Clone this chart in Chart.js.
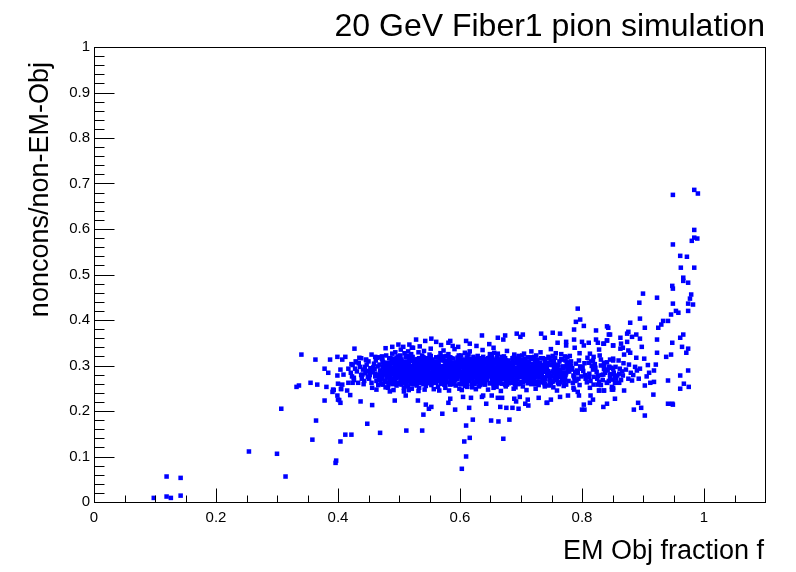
<!DOCTYPE html>
<html>
<head>
<meta charset="utf-8">
<title>20 GeV Fiber1 pion simulation</title>
<script src="https://cdn.jsdelivr.net/npm/chart.js@4.4.1/dist/chart.umd.min.js"></script>
<style>
  html, body { margin: 0; padding: 0; background: #ffffff; }
  #box { width: 796px; height: 572px; }
</style>
</head>
<body>
<div id="box"><canvas id="chart-fiber1" width="796" height="572"></canvas></div>
<script>
// Texts and axis ticks
const titleText = "20 GeV Fiber1 pion simulation";
const xTitle = "EM Obj fraction f";
const yTitle = "noncons/non-EM-Obj";
const xRange = [0, 1.1];
const yRange = [0, 1];
const xTickValues = [0, 0.2, 0.4, 0.6, 0.8, 1];
const xTickLabels = ["0", "0.2", "0.4", "0.6", "0.8", "1"];
const yTickValues = [0, 0.1, 0.2, 0.3, 0.4, 0.5, 0.6, 0.7, 0.8, 0.9, 1];
const yTickLabels = ["0", "0.1", "0.2", "0.3", "0.4", "0.5", "0.6", "0.7", "0.8", "0.9", "1"];

// [EM fraction, noncons/non-EM] pairs
const lowTail = [
  [0.098,0.009],[0.119,0.012],[0.126,0.009],[0.142,0.014],[0.119,0.056],[0.142,0.053],
  [0.254,0.111],[0.300,0.106],[0.314,0.056],[0.307,0.205],[0.340,0.324],[0.332,0.253],
  [0.336,0.256],[0.355,0.262],[0.363,0.313],[0.366,0.258],[0.364,0.179],[0.358,0.137],
  [0.378,0.293],[0.384,0.284],[0.381,0.253],[0.378,0.223],[0.387,0.313],[0.391,0.242],
  [0.392,0.247],[0.399,0.319],[0.399,0.278],[0.400,0.260],[0.404,0.291],[0.399,0.234],
  [0.400,0.225],[0.404,0.218],[0.405,0.249],[0.407,0.313],[0.409,0.280],[0.407,0.258],
  [0.412,0.319],[0.417,0.293],[0.417,0.262],[0.415,0.245],[0.412,0.148],[0.404,0.133],
  [0.397,0.091],[0.396,0.086],[0.422,0.148],[0.437,0.221],[0.456,0.213],[0.448,0.172],
  [0.469,0.152],[0.427,0.337],[0.424,0.262],[0.426,0.273],[0.422,0.303],[0.430,0.307],
  [0.438,0.316],[0.420,0.235],[0.402,0.224],[0.393,0.246],[0.405,0.248]
];

const lowerFringe = [
  [0.540,0.192],[0.571,0.194],[0.592,0.203],[0.615,0.207],[0.621,0.181],[0.610,0.168],
  [0.616,0.141],[0.607,0.133],[0.610,0.100],[0.603,0.073],[0.493,0.223],[0.511,0.234],
  [0.531,0.223],[0.544,0.214],[0.553,0.209],[0.549,0.205],[0.581,0.218],[0.584,0.227],
  [0.512,0.157],[0.538,0.157],[0.643,0.216],[0.651,0.179],[0.663,0.177],[0.681,0.181],
  [0.671,0.139],[0.666,0.209],[0.676,0.207],[0.686,0.207],[0.696,0.205],[0.707,0.216],
  [0.712,0.212],[0.743,0.218],[0.605,0.231],[0.618,0.229],[0.638,0.234],[0.652,0.234],
  [0.636,0.231],[0.662,0.229],[0.669,0.229],[0.689,0.227],[0.692,0.221],[0.698,0.231],
  [0.711,0.225],[0.729,0.229],[0.742,0.218],[0.749,0.225],[0.764,0.231],[0.777,0.234],
  [0.787,0.247],[0.793,0.242],[0.795,0.234],[0.800,0.203],[0.803,0.214],[0.804,0.203],
  [0.813,0.218],[0.818,0.225],[0.814,0.234],[0.813,0.251],[0.826,0.258],[0.819,0.275],
  [0.828,0.245],[0.836,0.245],[0.835,0.209],[0.841,0.216],[0.854,0.227],[0.841,0.262],
  [0.849,0.247],[0.851,0.251],[0.854,0.275],[0.885,0.203],[0.892,0.218],[0.897,0.207],
  [0.903,0.190]
];

const upperFringe = [
  [0.499,0.346],[0.517,0.346],[0.528,0.357],[0.543,0.354],[0.553,0.359],[0.561,0.352],
  [0.584,0.354],[0.581,0.350],[0.610,0.354],[0.616,0.348],[0.455,0.324],[0.435,0.317],
  [0.446,0.313],[0.461,0.319],[0.464,0.317],[0.636,0.366],[0.674,0.366],[0.662,0.361],
  [0.671,0.357],[0.693,0.370],[0.703,0.368],[0.699,0.363],[0.733,0.370],[0.752,0.372],
  [0.764,0.370],[0.739,0.361],[0.774,0.352],[0.774,0.344],[0.760,0.350],[0.788,0.339],
  [0.800,0.352],[0.811,0.350],[0.803,0.344],[0.823,0.357],[0.826,0.350],[0.836,0.348],
  [0.841,0.355],[0.844,0.368],[0.851,0.344],[0.793,0.425],[0.790,0.396],[0.797,0.401],
  [0.803,0.387],[0.787,0.379],[0.823,0.377],[0.841,0.386],[0.787,0.357],[0.478,0.338],
  [0.489,0.341],[0.627,0.343],[0.648,0.347],[0.655,0.339],[0.588,0.343],[0.597,0.341],
  [0.569,0.345],[0.534,0.342],[0.521,0.339],[0.507,0.341]
];

const rightTail = [
  [0.846,0.368],[0.841,0.355],[0.835,0.348],[0.851,0.344],[0.828,0.335],[0.831,0.313],
  [0.846,0.313],[0.851,0.311],[0.860,0.311],[0.831,0.300],[0.836,0.300],[0.845,0.297],
  [0.841,0.291],[0.848,0.295],[0.835,0.280],[0.846,0.280],[0.841,0.262],[0.849,0.269],
  [0.861,0.262],[0.849,0.253],[0.851,0.247],[0.869,0.245],[0.836,0.245],[0.828,0.245],
  [0.813,0.326],[0.819,0.319],[0.818,0.311],[0.811,0.306],[0.836,0.306],[0.844,0.297],
  [0.851,0.293],[0.855,0.297],[0.984,0.686],[0.990,0.678],[0.949,0.675],[0.984,0.598],
  [0.980,0.574],[0.984,0.581],[0.989,0.579],[0.949,0.566],[0.961,0.541],[0.972,0.539],
  [0.962,0.515],[0.984,0.515],[0.966,0.493],[0.966,0.486],[0.974,0.482],[0.948,0.475],
  [0.949,0.469],[0.979,0.456],[0.977,0.447],[0.974,0.436],[0.982,0.434],[0.949,0.436],
  [0.923,0.449],[0.900,0.458],[0.894,0.438],[0.954,0.420],[0.958,0.416],[0.974,0.420],
  [0.946,0.412],[0.941,0.398],[0.933,0.398],[0.930,0.390],[0.925,0.383],[0.895,0.403],
  [0.879,0.394],[0.903,0.383],[0.843,0.383],[0.966,0.368],[0.961,0.361],[0.923,0.357],
  [0.948,0.350],[0.964,0.341],[0.974,0.337],[0.971,0.328],[0.946,0.324],[0.938,0.319],
  [0.923,0.328],[0.921,0.302],[0.918,0.289],[0.910,0.284],[0.898,0.341],[0.889,0.368],
  [0.882,0.363],[0.895,0.359],[0.874,0.370],[0.876,0.374],[0.863,0.361],[0.864,0.348],
  [0.863,0.337],[0.867,0.339],[0.874,0.352],[0.869,0.324],[0.879,0.328],[0.876,0.333],
  [0.889,0.317],[0.902,0.315],[0.895,0.293],[0.890,0.289],[0.880,0.284],[0.867,0.278],
  [0.876,0.271],[0.882,0.267],[0.903,0.256],[0.918,0.264],[0.917,0.236],[0.941,0.267],
  [0.961,0.278],[0.967,0.260],[0.975,0.253],[0.961,0.249],[0.974,0.289],[0.941,0.216],
  [0.948,0.216],[0.949,0.214]
];

const coreLeft = [
  [0.421,0.284],[0.424,0.301],[0.426,0.268],[0.428,0.293],[0.423,0.276],[0.429,0.309],
  [0.431,0.287],[0.433,0.262],[0.436,0.297],[0.438,0.279],[0.434,0.305],[0.439,0.271],
  [0.441,0.291],[0.443,0.266],[0.445,0.283],[0.447,0.302],[0.449,0.275],[0.442,0.259],
  [0.446,0.312],[0.448,0.288],[0.444,0.297],[0.440,0.280],
  [0.451,0.271],[0.453,0.294],[0.455,0.262],[0.457,0.285],[0.459,0.304],[0.452,0.279],
  [0.456,0.251],[0.458,0.296],[0.454,0.287],[0.450,0.309],
  [0.461,0.282],[0.463,0.266],[0.465,0.298],[0.467,0.274],[0.469,0.289],[0.462,0.311],
  [0.466,0.257],[0.468,0.302],[0.464,0.280],[0.460,0.292],[0.463,0.247],[0.467,0.318],
  [0.469,0.268],[0.461,0.276],
  [0.471,0.286],[0.473,0.272],[0.475,0.301],[0.477,0.264],[0.479,0.293],[0.472,0.315],
  [0.476,0.280],[0.478,0.252],[0.474,0.307],[0.470,0.269],[0.473,0.296],[0.477,0.284],
  [0.479,0.322],[0.471,0.259],
  [0.481,0.278],[0.483,0.293],[0.485,0.264],[0.487,0.306],[0.489,0.284],[0.482,0.251],
  [0.486,0.299],[0.488,0.271],[0.484,0.316],[0.480,0.288],[0.483,0.259],[0.487,0.281],
  [0.489,0.326],[0.481,0.297],[0.485,0.243],[0.488,0.310],[0.482,0.274],[0.486,0.289],
  [0.491,0.283],[0.493,0.267],[0.495,0.302],[0.497,0.276],[0.499,0.291],[0.492,0.314],
  [0.496,0.256],[0.498,0.285],[0.494,0.329],[0.490,0.271],[0.493,0.298],[0.497,0.262],
  [0.499,0.308],[0.491,0.246],[0.495,0.280],[0.498,0.320],[0.492,0.293],[0.496,0.273]
];

const coreMidA = [
  [0.501,0.287],[0.503,0.271],[0.505,0.304],[0.507,0.262],[0.509,0.295],[0.502,0.318],[0.506,0.279],[0.508,0.251],[0.504,0.309],[0.500,0.284],[0.503,0.266],
  [0.507,0.299],[0.509,0.327],[0.501,0.275],[0.505,0.291],[0.508,0.243],[0.502,0.313],[0.506,0.282],[0.504,0.258],[0.509,0.302],[0.503,0.335],[0.507,0.289],
  [0.514,0.276],[0.518,0.293],[0.512,0.261],[0.516,0.308],[0.510,0.284],[0.519,0.269],[0.513,0.321],[0.517,0.297],[0.515,0.254],[0.511,0.288],[0.518,0.311],
  [0.514,0.273],[0.510,0.301],[0.516,0.246],[0.512,0.283],[0.519,0.316],[0.517,0.265],[0.513,0.294],[0.515,0.331],[0.511,0.279],[0.516,0.305],[0.512,0.258],
  [0.521,0.291],[0.523,0.268],[0.525,0.302],[0.527,0.279],[0.529,0.256],[0.522,0.314],[0.526,0.286],[0.528,0.297],[0.524,0.263],[0.520,0.325],[0.523,0.274],
  [0.527,0.309],[0.529,0.283],[0.521,0.249],[0.525,0.296],[0.528,0.271],[0.522,0.318],[0.526,0.288],[0.524,0.259],[0.529,0.306],[0.523,0.339],[0.527,0.281],
  [0.534,0.282],[0.538,0.305],[0.532,0.267],[0.536,0.293],[0.530,0.314],[0.539,0.276],[0.533,0.251],[0.537,0.299],[0.535,0.286],[0.531,0.262],[0.538,0.322],
  [0.534,0.289],[0.530,0.272],[0.536,0.308],[0.532,0.244],[0.539,0.295],[0.537,0.278],[0.533,0.316],[0.535,0.265],[0.531,0.301],[0.536,0.284],[0.532,0.329],
  [0.541,0.297],[0.543,0.274],[0.545,0.286],[0.547,0.311],[0.549,0.263],[0.542,0.292],[0.546,0.279],[0.548,0.304],[0.544,0.255],[0.540,0.318],[0.543,0.283],
  [0.547,0.268],[0.549,0.299],[0.541,0.332],[0.545,0.276],[0.548,0.289],[0.542,0.247],[0.546,0.307],[0.544,0.271],[0.549,0.294],[0.543,0.261],[0.547,0.313],
  [0.554,0.278],[0.558,0.301],[0.552,0.265],[0.556,0.289],[0.550,0.316],[0.559,0.282],[0.553,0.257],[0.557,0.295],[0.555,0.273],[0.551,0.308],[0.558,0.286],
  [0.554,0.261],[0.550,0.324],[0.556,0.292],[0.552,0.269],[0.559,0.303],[0.557,0.248],[0.553,0.285],[0.555,0.312],[0.551,0.276],[0.556,0.298],[0.552,0.337],
  [0.561,0.289],[0.563,0.272],[0.565,0.307],[0.567,0.284],[0.569,0.261],[0.562,0.296],[0.566,0.319],[0.568,0.277],[0.564,0.253],[0.560,0.301],[0.563,0.288],
  [0.567,0.266],[0.569,0.313],[0.561,0.293],[0.565,0.274],[0.568,0.327],[0.562,0.282],[0.566,0.245],[0.564,0.305],[0.569,0.269],[0.563,0.291],[0.567,0.281],
  [0.574,0.274],[0.578,0.296],[0.572,0.283],[0.576,0.259],[0.570,0.312],[0.579,0.288],[0.573,0.271],[0.577,0.304],[0.575,0.293],[0.571,0.264],[0.578,0.321],
  [0.574,0.279],[0.570,0.298],[0.576,0.251],[0.572,0.286],[0.579,0.309],[0.577,0.275],[0.573,0.333],[0.575,0.267],[0.571,0.294],[0.576,0.284],[0.572,0.316],
  [0.581,0.293],[0.583,0.279],[0.585,0.266],[0.587,0.302],[0.589,0.287],[0.582,0.315],[0.586,0.272],[0.588,0.297],[0.584,0.258],[0.580,0.283],[0.583,0.309],
  [0.587,0.291],[0.589,0.268],[0.581,0.325],[0.585,0.276],[0.588,0.301],[0.582,0.245],[0.586,0.289],[0.584,0.318],[0.589,0.262],[0.583,0.296],[0.587,0.284],
  [0.594,0.281],[0.598,0.304],[0.592,0.269],[0.596,0.292],[0.590,0.277],[0.599,0.311],[0.593,0.256],[0.597,0.288],[0.595,0.299],[0.591,0.273],[0.598,0.322],
  [0.594,0.285],[0.590,0.263],[0.596,0.306],[0.592,0.294],[0.599,0.249],[0.597,0.317],[0.593,0.279],[0.595,0.297],[0.591,0.336],[0.596,0.271],[0.592,0.289]
];

const coreMidB = [
  [0.601,0.286],[0.603,0.273],[0.605,0.299],[0.607,0.264],[0.609,0.291],[0.602,0.308],[0.606,0.281],[0.608,0.255],[0.604,0.296],[0.600,0.317],[0.603,0.276],
  [0.607,0.289],[0.609,0.267],[0.601,0.303],[0.605,0.284],[0.608,0.328],[0.602,0.259],[0.606,0.294],[0.604,0.271],[0.609,0.312],[0.603,0.246],[0.607,0.298],
  [0.614,0.277],[0.618,0.294],[0.612,0.282],[0.616,0.306],[0.610,0.268],[0.619,0.289],[0.613,0.315],[0.617,0.273],[0.615,0.298],[0.611,0.261],[0.618,0.286],
  [0.614,0.324],[0.610,0.279],[0.616,0.301],[0.612,0.253],[0.619,0.292],[0.617,0.309],[0.613,0.284],[0.615,0.266],[0.611,0.297],[0.616,0.331],[0.612,0.276],
  [0.621,0.292],[0.623,0.279],[0.625,0.305],[0.627,0.271],[0.629,0.288],[0.622,0.263],[0.626,0.314],[0.628,0.296],[0.624,0.282],[0.620,0.252],[0.623,0.301],
  [0.627,0.287],[0.629,0.321],[0.621,0.275],[0.625,0.293],[0.628,0.267],[0.622,0.308],[0.626,0.248],[0.624,0.289],[0.629,0.316],[0.623,0.274],[0.627,0.299],
  [0.634,0.284],[0.638,0.299],[0.632,0.267],[0.636,0.291],[0.630,0.312],[0.639,0.278],[0.633,0.257],[0.637,0.303],[0.635,0.286],[0.631,0.271],[0.638,0.319],
  [0.634,0.294],[0.630,0.263],[0.636,0.281],[0.632,0.306],[0.639,0.289],[0.637,0.334],[0.633,0.275],[0.635,0.296],[0.631,0.254],[0.636,0.311],[0.632,0.282],
  [0.641,0.273],[0.643,0.288],[0.645,0.302],[0.647,0.279],[0.649,0.261],[0.642,0.295],[0.646,0.313],[0.648,0.284],[0.644,0.268],[0.640,0.306],[0.643,0.291],
  [0.647,0.276],[0.649,0.325],[0.641,0.258],[0.645,0.297],[0.648,0.283],[0.642,0.309],[0.646,0.247],[0.644,0.287],[0.649,0.318],[0.643,0.272],[0.647,0.301],
  [0.654,0.296],[0.658,0.281],[0.652,0.268],[0.656,0.304],[0.650,0.289],[0.659,0.275],[0.653,0.317],[0.657,0.293],[0.655,0.259],[0.651,0.286],[0.658,0.308],
  [0.654,0.272],[0.650,0.299],[0.656,0.328],[0.652,0.281],[0.659,0.264],[0.657,0.311],[0.653,0.292],[0.655,0.251],[0.651,0.302],[0.656,0.277],[0.652,0.289],
  [0.661,0.283],[0.663,0.297],[0.665,0.272],[0.667,0.309],[0.669,0.286],[0.662,0.264],[0.666,0.294],[0.668,0.319],[0.664,0.279],[0.660,0.253],[0.663,0.301],
  [0.667,0.288],[0.669,0.271],[0.661,0.313],[0.665,0.296],[0.668,0.282],[0.662,0.326],[0.666,0.261],[0.664,0.292],[0.669,0.305],[0.663,0.276],[0.667,0.244],
  [0.674,0.289],[0.678,0.276],[0.672,0.301],[0.676,0.266],[0.670,0.293],[0.679,0.311],[0.673,0.282],[0.677,0.258],[0.675,0.297],[0.671,0.284],[0.678,0.272],
  [0.674,0.316],[0.670,0.291],[0.676,0.263],[0.672,0.305],[0.679,0.279],[0.677,0.332],[0.673,0.287],[0.675,0.254],[0.671,0.299],[0.676,0.274],[0.672,0.309],
  [0.681,0.278],[0.683,0.292],[0.685,0.284],[0.687,0.306],[0.689,0.269],[0.682,0.295],[0.686,0.281],[0.688,0.317],[0.684,0.273],[0.680,0.261],[0.683,0.302],
  [0.687,0.289],[0.689,0.324],[0.681,0.276],[0.685,0.297],[0.688,0.249],[0.682,0.286],[0.686,0.311],[0.684,0.271],[0.689,0.294],[0.683,0.283],[0.687,0.301],
  [0.694,0.294],[0.698,0.281],[0.692,0.267],[0.696,0.303],[0.690,0.288],[0.699,0.275],[0.693,0.312],[0.697,0.296],[0.695,0.259],[0.691,0.284],[0.698,0.307],
  [0.694,0.271],[0.690,0.292],[0.696,0.321],[0.692,0.278],[0.699,0.263],[0.697,0.299],[0.693,0.286],[0.695,0.314],[0.691,0.252],[0.696,0.289],[0.692,0.305]
];

const coreRight = [
  [0.702,0.286],[0.705,0.271],[0.708,0.302],[0.701,0.264],[0.704,0.293],[0.707,0.315],[0.709,0.279],[0.703,0.254],
  [0.706,0.297],[0.700,0.283],[0.705,0.326],[0.708,0.268],[0.702,0.308],[0.707,0.289],[0.704,0.275],[0.709,0.246],
  [0.712,0.279],[0.715,0.294],[0.718,0.266],[0.711,0.308],[0.714,0.285],[0.717,0.259],[0.719,0.301],[0.713,0.273],
  [0.716,0.318],[0.710,0.288],[0.715,0.262],[0.718,0.296],[0.712,0.281],[0.717,0.331],[0.714,0.270],[0.719,0.303],
  [0.722,0.291],[0.725,0.276],[0.728,0.305],[0.721,0.268],[0.724,0.284],[0.727,0.313],[0.729,0.257],[0.723,0.297],
  [0.726,0.281],[0.720,0.272],[0.725,0.322],[0.728,0.289],[0.722,0.263],[0.727,0.300],[0.724,0.249],[0.729,0.286],
  [0.732,0.283],[0.735,0.298],[0.738,0.269],[0.731,0.306],[0.734,0.277],[0.737,0.291],[0.739,0.254],[0.733,0.316],
  [0.736,0.286],[0.730,0.264],[0.735,0.301],[0.738,0.274],[0.732,0.329],[0.737,0.293],[0.734,0.280],[0.739,0.259],
  [0.742,0.294],[0.745,0.279],[0.748,0.265],[0.741,0.302],[0.744,0.288],[0.747,0.271],[0.749,0.311],[0.743,0.283],
  [0.746,0.256],[0.740,0.297],[0.745,0.319],[0.748,0.276],[0.742,0.290],[0.747,0.262],[0.744,0.305],[0.749,0.336],
  [0.752,0.287],[0.755,0.273],[0.758,0.299],[0.751,0.264],[0.754,0.309],[0.757,0.281],[0.759,0.294],[0.753,0.252],
  [0.756,0.317],[0.750,0.276],[0.755,0.289],[0.758,0.268],[0.752,0.302],[0.757,0.327],[0.754,0.284],[0.759,0.245],
  [0.763,0.285],[0.767,0.268],[0.761,0.301],[0.765,0.276],[0.769,0.293],[0.762,0.259],[0.766,0.314],[0.760,0.281],
  [0.768,0.297],[0.764,0.263],[0.766,0.325],[0.762,0.289],
  [0.773,0.279],[0.777,0.296],[0.771,0.264],[0.775,0.307],[0.779,0.287],[0.772,0.272],[0.776,0.318],[0.770,0.255],
  [0.778,0.291],[0.774,0.283],[0.776,0.302],[0.772,0.269],
  [0.783,0.291],[0.787,0.274],[0.781,0.305],[0.785,0.262],[0.789,0.286],[0.782,0.299],[0.786,0.278],[0.780,0.321],
  [0.788,0.266],[0.784,0.294],[0.786,0.251],[0.782,0.309],
  [0.793,0.283],[0.797,0.298],[0.791,0.267],[0.795,0.311],[0.799,0.276],[0.792,0.289],[0.796,0.257],[0.790,0.304],
  [0.798,0.293],[0.794,0.271],[0.796,0.327],[0.792,0.285],
  [0.802,0.288],[0.806,0.271],[0.804,0.305],[0.808,0.263],[0.801,0.296],[0.805,0.279],[0.809,0.317],
  [0.812,0.282],[0.816,0.299],[0.814,0.266],[0.818,0.291],[0.811,0.274],[0.815,0.309],[0.819,0.258],
  [0.822,0.295],[0.826,0.277],[0.824,0.286],[0.828,0.264],[0.821,0.303],[0.825,0.271],[0.829,0.322],
  [0.832,0.279],[0.836,0.292],[0.834,0.268],[0.838,0.284],[0.831,0.257],
  [0.842,0.289],[0.846,0.273],[0.844,0.266],[0.848,0.281],[0.841,0.307],
  [0.852,0.284],[0.856,0.271],[0.854,0.262],[0.858,0.278],[0.851,0.315],
  [0.862,0.293],[0.866,0.287],[0.864,0.268],[0.868,0.305],[0.861,0.282],
  [0.872,0.291],[0.877,0.302],[0.884,0.279],[0.887,0.297],[0.893,0.271],[0.906,0.276],
  [0.912,0.262],[0.908,0.301]
];

// densest part of the band, where the markers merge into a solid block
const coreSolid = [
  [0.475,0.298],[0.470,0.283],[0.478,0.266],[0.473,0.311],[0.476,0.291],[0.471,0.275],[0.479,0.304],[0.474,0.258],[0.477,0.287],[0.472,0.320],
  [0.485,0.272],[0.480,0.306],[0.488,0.289],[0.483,0.262],[0.486,0.295],[0.481,0.279],[0.489,0.315],[0.484,0.284],[0.487,0.268],[0.482,0.301],
  [0.495,0.285],[0.490,0.269],[0.498,0.300],[0.493,0.278],[0.496,0.317],[0.491,0.291],[0.499,0.260],[0.494,0.307],[0.497,0.282],[0.492,0.294],
  [0.505,0.303],[0.500,0.276],[0.508,0.291],[0.503,0.264],[0.506,0.286],[0.501,0.312],[0.509,0.271],[0.504,0.297],[0.507,0.280],[0.502,0.322],
  [0.515,0.279],[0.510,0.295],[0.518,0.270],[0.513,0.308],[0.516,0.283],[0.511,0.261],[0.519,0.299],[0.514,0.289],[0.517,0.314],[0.512,0.274],
  [0.525,0.297],[0.520,0.284],[0.528,0.265],[0.523,0.310],[0.526,0.292],[0.521,0.276],[0.529,0.303],[0.524,0.259],[0.527,0.288],[0.522,0.319],
  [0.535,0.273],[0.530,0.305],[0.538,0.290],[0.533,0.263],[0.536,0.296],[0.531,0.280],[0.539,0.314],[0.534,0.285],[0.537,0.269],[0.532,0.300],
  [0.545,0.286],[0.540,0.270],[0.548,0.301],[0.543,0.277],[0.546,0.316],[0.541,0.290],[0.549,0.261],[0.544,0.306],[0.547,0.283],[0.542,0.295],
  [0.555,0.302],[0.550,0.277],[0.558,0.292],[0.553,0.265],[0.556,0.287],[0.551,0.311],[0.559,0.272],[0.554,0.296],[0.557,0.281],[0.552,0.321],
  [0.565,0.280],[0.560,0.294],[0.568,0.271],[0.563,0.309],[0.566,0.282],[0.561,0.262],[0.569,0.298],[0.564,0.290],[0.567,0.313],[0.562,0.275],
  [0.575,0.298],[0.570,0.283],[0.578,0.266],[0.573,0.311],[0.576,0.291],[0.571,0.275],[0.579,0.304],[0.574,0.258],[0.577,0.287],[0.572,0.320],
  [0.585,0.272],[0.580,0.306],[0.588,0.289],[0.583,0.262],[0.586,0.295],[0.581,0.279],[0.589,0.315],[0.584,0.284],[0.587,0.268],[0.582,0.301],
  [0.595,0.285],[0.590,0.269],[0.598,0.300],[0.593,0.278],[0.596,0.317],[0.591,0.291],[0.599,0.260],[0.594,0.307],[0.597,0.282],[0.592,0.294],
  [0.605,0.303],[0.600,0.276],[0.608,0.291],[0.603,0.264],[0.606,0.286],[0.601,0.312],[0.609,0.271],[0.604,0.297],[0.607,0.280],[0.602,0.322],
  [0.615,0.279],[0.610,0.295],[0.618,0.270],[0.613,0.308],[0.616,0.283],[0.611,0.261],[0.619,0.299],[0.614,0.289],[0.617,0.314],[0.612,0.274],
  [0.625,0.297],[0.620,0.284],[0.628,0.265],[0.623,0.310],[0.626,0.292],[0.621,0.276],[0.629,0.303],[0.624,0.259],[0.627,0.288],[0.622,0.319],
  [0.635,0.273],[0.630,0.305],[0.638,0.290],[0.633,0.263],[0.636,0.296],[0.631,0.280],[0.639,0.314],[0.634,0.285],[0.637,0.269],[0.632,0.300],
  [0.645,0.286],[0.640,0.270],[0.648,0.301],[0.643,0.277],[0.646,0.316],[0.641,0.290],[0.649,0.261],[0.644,0.306],[0.647,0.283],[0.642,0.295],
  [0.655,0.302],[0.650,0.277],[0.658,0.292],[0.653,0.265],[0.656,0.287],[0.651,0.311],[0.659,0.272],[0.654,0.296],[0.657,0.281],[0.652,0.321],
  [0.665,0.280],[0.660,0.294],[0.668,0.271],[0.663,0.309],[0.666,0.282],[0.661,0.262],[0.669,0.298],[0.664,0.290],[0.667,0.313],[0.662,0.275],
  [0.675,0.298],[0.670,0.283],[0.678,0.266],[0.673,0.311],[0.676,0.291],[0.671,0.275],[0.679,0.304],[0.674,0.258],[0.677,0.287],[0.672,0.320],
  [0.685,0.272],[0.680,0.306],[0.688,0.289],[0.683,0.262],[0.686,0.295],[0.681,0.279],[0.689,0.315],[0.684,0.284],[0.687,0.268],[0.682,0.301],
  [0.695,0.285],[0.690,0.269],[0.698,0.300],[0.693,0.278],[0.696,0.317],[0.691,0.291],[0.699,0.260],[0.694,0.307],[0.697,0.282],[0.692,0.294],
  [0.705,0.303],[0.700,0.276],[0.708,0.291],[0.703,0.264],[0.706,0.286],[0.701,0.312],[0.709,0.271],[0.704,0.297],[0.707,0.280],[0.702,0.322],
  [0.715,0.279],[0.710,0.295],[0.718,0.270],[0.713,0.308],[0.716,0.283],[0.711,0.261],[0.719,0.299],[0.714,0.289],[0.717,0.314],[0.712,0.274],
  [0.725,0.297],[0.720,0.284],[0.728,0.265],[0.723,0.310],[0.726,0.292],[0.721,0.276],[0.729,0.303],[0.724,0.259],[0.727,0.288],[0.722,0.319],
  [0.735,0.273],[0.730,0.305],[0.738,0.290],[0.733,0.263],[0.736,0.296],[0.731,0.280],[0.739,0.314],[0.734,0.285],[0.737,0.269],[0.732,0.300],
  [0.745,0.286],[0.740,0.270],[0.748,0.301],[0.743,0.277],[0.746,0.316],[0.741,0.290],[0.749,0.261],[0.744,0.306],[0.747,0.283],[0.742,0.295],
  [0.755,0.302],[0.750,0.277],[0.758,0.292],[0.753,0.265],[0.756,0.287],[0.751,0.311],[0.759,0.272],[0.754,0.296],[0.757,0.281],[0.752,0.321],
  [0.765,0.280],[0.760,0.294],[0.768,0.271],[0.763,0.309],[0.766,0.282],[0.761,0.262],[0.769,0.298],[0.764,0.290],[0.767,0.313],[0.762,0.275],
  [0.775,0.298],[0.770,0.283],[0.778,0.266],[0.773,0.311],[0.776,0.291],[0.771,0.275],[0.779,0.304],[0.774,0.258],[0.777,0.287],[0.772,0.320]
];

// second layer of the solid block, between 0.48 and 0.74
const coreDense = [
  [0.482,0.293],[0.487,0.268],[0.484,0.281],[0.489,0.305],[0.480,0.274],[0.485,0.299],[0.488,0.262],[0.483,0.288],[0.486,0.316],[0.481,0.277],
  [0.492,0.284],[0.497,0.309],[0.494,0.271],[0.499,0.294],[0.490,0.259],[0.495,0.287],[0.498,0.302],[0.493,0.276],[0.496,0.292],[0.491,0.265],
  [0.502,0.277],[0.507,0.290],[0.504,0.313],[0.509,0.266],[0.500,0.297],[0.505,0.282],[0.508,0.271],[0.503,0.306],[0.506,0.285],[0.501,0.298],
  [0.512,0.301],[0.517,0.273],[0.514,0.287],[0.519,0.260],[0.510,0.308],[0.515,0.279],[0.518,0.294],[0.513,0.268],[0.516,0.283],[0.511,0.318],
  [0.522,0.288],[0.527,0.264],[0.524,0.299],[0.529,0.281],[0.520,0.270],[0.525,0.311],[0.528,0.286],[0.523,0.275],[0.526,0.303],[0.521,0.292],
  [0.532,0.293],[0.537,0.268],[0.534,0.281],[0.539,0.305],[0.530,0.274],[0.535,0.299],[0.538,0.262],[0.533,0.288],[0.536,0.316],[0.531,0.277],
  [0.542,0.284],[0.547,0.309],[0.544,0.271],[0.549,0.294],[0.540,0.259],[0.545,0.287],[0.548,0.302],[0.543,0.276],[0.546,0.292],[0.541,0.265],
  [0.552,0.277],[0.557,0.290],[0.554,0.313],[0.559,0.266],[0.550,0.297],[0.555,0.282],[0.558,0.271],[0.553,0.306],[0.556,0.285],[0.551,0.298],
  [0.562,0.301],[0.567,0.273],[0.564,0.287],[0.569,0.260],[0.560,0.308],[0.565,0.279],[0.568,0.294],[0.563,0.268],[0.566,0.283],[0.561,0.318],
  [0.572,0.288],[0.577,0.264],[0.574,0.299],[0.579,0.281],[0.570,0.270],[0.575,0.311],[0.578,0.286],[0.573,0.275],[0.576,0.303],[0.571,0.292],
  [0.582,0.293],[0.587,0.268],[0.584,0.281],[0.589,0.305],[0.580,0.274],[0.585,0.299],[0.588,0.262],[0.583,0.288],[0.586,0.316],[0.581,0.277],
  [0.592,0.284],[0.597,0.309],[0.594,0.271],[0.599,0.294],[0.590,0.259],[0.595,0.287],[0.598,0.302],[0.593,0.276],[0.596,0.292],[0.591,0.265],
  [0.602,0.277],[0.607,0.290],[0.604,0.313],[0.609,0.266],[0.600,0.297],[0.605,0.282],[0.608,0.271],[0.603,0.306],[0.606,0.285],[0.601,0.298],
  [0.612,0.301],[0.617,0.273],[0.614,0.287],[0.619,0.260],[0.610,0.308],[0.615,0.279],[0.618,0.294],[0.613,0.268],[0.616,0.283],[0.611,0.318],
  [0.622,0.288],[0.627,0.264],[0.624,0.299],[0.629,0.281],[0.620,0.270],[0.625,0.311],[0.628,0.286],[0.623,0.275],[0.626,0.303],[0.621,0.292],
  [0.632,0.293],[0.637,0.268],[0.634,0.281],[0.639,0.305],[0.630,0.274],[0.635,0.299],[0.638,0.262],[0.633,0.288],[0.636,0.316],[0.631,0.277],
  [0.642,0.284],[0.647,0.309],[0.644,0.271],[0.649,0.294],[0.640,0.259],[0.645,0.287],[0.648,0.302],[0.643,0.276],[0.646,0.292],[0.641,0.265],
  [0.652,0.277],[0.657,0.290],[0.654,0.313],[0.659,0.266],[0.650,0.297],[0.655,0.282],[0.658,0.271],[0.653,0.306],[0.656,0.285],[0.651,0.298],
  [0.662,0.301],[0.667,0.273],[0.664,0.287],[0.669,0.260],[0.660,0.308],[0.665,0.279],[0.668,0.294],[0.663,0.268],[0.666,0.283],[0.661,0.318],
  [0.672,0.288],[0.677,0.264],[0.674,0.299],[0.679,0.281],[0.670,0.270],[0.675,0.311],[0.678,0.286],[0.673,0.275],[0.676,0.303],[0.671,0.292],
  [0.682,0.293],[0.687,0.268],[0.684,0.281],[0.689,0.305],[0.680,0.274],[0.685,0.299],[0.688,0.262],[0.683,0.288],[0.686,0.316],[0.681,0.277],
  [0.692,0.284],[0.697,0.309],[0.694,0.271],[0.699,0.294],[0.690,0.259],[0.695,0.287],[0.698,0.302],[0.693,0.276],[0.696,0.292],[0.691,0.265],
  [0.702,0.277],[0.707,0.290],[0.704,0.313],[0.709,0.266],[0.700,0.297],[0.705,0.282],[0.708,0.271],[0.703,0.306],[0.706,0.285],[0.701,0.298],
  [0.712,0.301],[0.717,0.273],[0.714,0.287],[0.719,0.260],[0.710,0.308],[0.715,0.279],[0.718,0.294],[0.713,0.268],[0.716,0.283],[0.711,0.318],
  [0.722,0.288],[0.727,0.264],[0.724,0.299],[0.729,0.281],[0.720,0.270],[0.725,0.311],[0.728,0.286],[0.723,0.275],[0.726,0.303],[0.721,0.292],
  [0.732,0.293],[0.737,0.268],[0.734,0.281],[0.739,0.305],[0.730,0.274],[0.735,0.299],[0.738,0.262],[0.733,0.288],[0.736,0.316],[0.731,0.277]
];

const allPoints = [lowTail, coreLeft, coreMidA, coreMidB, coreRight, coreSolid, coreDense, lowerFringe, upperFringe, rightTail]
  .flat()
  .map(([x, y]) => ({ x, y }));

const FONT = "'Liberation Sans', Arial, Helvetica, sans-serif";

// ROOT-like frame: box, inward tick marks, axis titles and pad title
const rootFrame = {
  id: "rootFrame",
  afterDraw(chart) {
    const { ctx, chartArea: a } = chart;
    const sx = chart.scales.x;
    const sy = chart.scales.y;
    const left = Math.round(a.left) + 0.5;
    const right = Math.round(a.right) + 0.5;
    const top = Math.round(a.top) + 0.5;
    const bottom = Math.round(a.bottom) + 0.5;

    ctx.save();
    ctx.strokeStyle = "#000000";
    ctx.lineWidth = 1;
    ctx.strokeRect(left, top, right - left, bottom - top);

    ctx.beginPath();
    // x axis: 0.05 minor steps, major every 0.2
    for (let k = 0; k * 0.05 <= xRange[1] + 1e-9; k++) {
      const px = Math.round(sx.getPixelForValue(k * 0.05)) + 0.5;
      const len = k % 4 === 0 ? 14 : 7;
      ctx.moveTo(px, bottom);
      ctx.lineTo(px, bottom - len);
    }
    // y axis: 0.02 minor steps, major every 0.1
    for (let k = 0; k * 0.02 <= yRange[1] + 1e-9; k++) {
      const py = Math.round(sy.getPixelForValue(k * 0.02)) + 0.5;
      const len = k % 5 === 0 ? 20 : 10;
      ctx.moveTo(left, py);
      ctx.lineTo(left + len, py);
    }
    ctx.stroke();

    ctx.fillStyle = "#000000";
    ctx.textBaseline = "alphabetic";
    ctx.textAlign = "right";
    ctx.font = `32px ${FONT}`;
    ctx.fillText(titleText, 765, 36);

    ctx.font = `27px ${FONT}`;
    ctx.fillText(xTitle, 764, 559);

    ctx.translate(47.5, 62);
    ctx.rotate(-Math.PI / 2);
    ctx.fillText(yTitle, 0, 0);
    ctx.restore();
  },
};

const canvas = document.getElementById("chart-fiber1");
new Chart(canvas, {
  type: "scatter",
  data: {
    datasets: [{
      data: allPoints,
      pointStyle: "rect",
      pointRadius: 3.2,
      pointHoverRadius: 3.2,
      backgroundColor: "#0000ff",
      borderWidth: 0,
    }],
  },
  options: {
    responsive: false,
    animation: false,
    devicePixelRatio: 1,
    events: [],
    layout: { padding: { left: 0, right: 31, top: 47, bottom: 0 } },
    plugins: {
      legend: { display: false },
      tooltip: { enabled: false },
      title: { display: false },
    },
    scales: {
      x: {
        type: "linear",
        min: xRange[0],
        max: xRange[1],
        grid: { display: false, drawTicks: false },
        border: { display: false },
        afterBuildTicks: (s) => { s.ticks = xTickValues.map((v) => ({ value: v })); },
        afterFit: (s) => { s.height = 70; },
        ticks: {
          padding: 7,
          color: "#000000",
          font: { family: FONT, size: 15 },
          maxRotation: 0,
          autoSkip: false,
          callback: (v, i) => xTickLabels[i],
        },
      },
      y: {
        type: "linear",
        min: yRange[0],
        max: yRange[1],
        grid: { display: false, drawTicks: false },
        border: { display: false },
        afterBuildTicks: (s) => { s.ticks = yTickValues.map((v) => ({ value: v })); },
        afterFit: (s) => { s.width = 94; },
        ticks: {
          padding: 4,
          color: "#000000",
          font: { family: FONT, size: 15 },
          autoSkip: false,
          callback: (v, i) => yTickLabels[i],
        },
      },
    },
  },
  plugins: [rootFrame],
});
</script>
</body>
</html>
